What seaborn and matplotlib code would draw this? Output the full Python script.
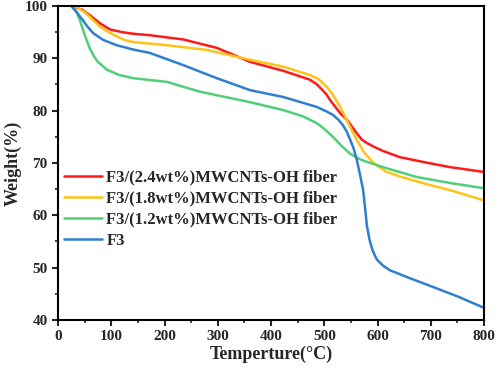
import pandas as pd
import matplotlib
matplotlib.use("Agg")
import matplotlib.pyplot as plt
import seaborn as sns
from matplotlib.ticker import MultipleLocator

# datos (temperatura, peso %)
temp_24 = [25, 45, 60, 80, 98, 120, 140, 173, 235, 298, 361, 423, 473, 485, 495, 504, 511, 520, 530, 543, 560, 570, 580, 595, 610, 642, 690, 736, 798]
peso_24 = [100, 99.3, 98.2, 96.6, 95.5, 95.0, 94.7, 94.4, 93.6, 92.0, 89.3, 87.6, 85.9, 85.1, 84.1, 83.1, 82.0, 80.8, 79.5, 78.2, 75.8, 74.5, 73.8, 73.0, 72.3, 71.1, 70.1, 69.2, 68.3]

temp_18 = [25, 35, 50, 65, 79, 95, 110, 125, 141, 204, 279, 361, 423, 473, 488, 498, 507, 515, 530, 545, 561, 575, 592, 615, 642, 690, 736, 798]
peso_18 = [100, 99.8, 98.8, 97.4, 96.0, 95.0, 94.2, 93.5, 93.1, 92.5, 91.6, 89.7, 88.4, 86.8, 86.1, 85.2, 84.3, 83.2, 80.7, 77.6, 74.4, 72.0, 70.0, 68.4, 67.4, 66.0, 64.8, 62.9]

temp_12 = [25, 35, 41, 50, 60, 68, 75, 92, 115, 141, 204, 267, 361, 423, 460, 486, 500, 516, 532, 548, 565, 580, 620, 674, 740, 798]
peso_12 = [100, 98.8, 97.3, 94.5, 91.8, 90.3, 89.3, 87.8, 86.8, 86.2, 85.5, 83.6, 81.6, 80.1, 78.9, 77.6, 76.5, 75.0, 73.3, 71.8, 70.8, 70.2, 68.9, 67.3, 66.1, 65.2]

temp_f3 = [25, 35, 45, 55, 66, 85, 110, 140, 173, 235, 298, 361, 423, 486, 505, 516, 527, 535, 542, 548, 555, 561, 567, 573, 577, 580, 585, 590, 595, 599, 610, 623, 660, 704, 750, 798]
peso_f3 = [100, 98.8, 97.5, 96.1, 94.8, 93.5, 92.5, 91.7, 91.0, 88.7, 86.2, 83.9, 82.6, 80.7, 79.8, 79.2, 78.2, 77.2, 76.0, 74.6, 72.8, 70.6, 67.8, 64.8, 61.0, 58.0, 55.3, 53.5, 52.3, 51.5, 50.4, 49.5, 48.0, 46.3, 44.5, 42.4]

etiquetas = ["F3/(2.4wt%)MWCNTs-OH fiber", "F3/(1.8wt%)MWCNTs-OH fiber",
             "F3/(1.2wt%)MWCNTs-OH fiber", "F3"]
colores = ["#ff1a1a", "#ffc21a", "#4fcf78", "#2f7fd0"]

series = [(temp_24, peso_24), (temp_18, peso_18), (temp_12, peso_12), (temp_f3, peso_f3)]

sns.set_style("ticks")
plt.rcParams['font.family'] = ['Liberation Serif', 'DejaVu Serif']
plt.rcParams['font.weight'] = 'bold'

fig = plt.figure(figsize=(4.98, 3.72), dpi=100)
ax = fig.add_axes([0.1165, 0.14, 0.8555, 0.844])

for (t, p), lab, col in zip(series, etiquetas, colores):
    d = pd.DataFrame({"Temp": t, "Peso": p})
    sns.lineplot(data=d, x="Temp", y="Peso", color=col, linewidth=1.8, label=lab, sort=False, ax=ax)

ax.set_xlim(0, 800)
ax.set_ylim(40, 100)
ax.xaxis.set_major_locator(MultipleLocator(100))
ax.xaxis.set_minor_locator(MultipleLocator(50))
ax.yaxis.set_major_locator(MultipleLocator(10))
ax.yaxis.set_minor_locator(MultipleLocator(5))
ax.tick_params(which='major', direction='out', length=4, width=1.5, labelsize=11)
ax.tick_params(which='minor', direction='out', length=2.5, width=1.2)
for s in ax.spines.values():
    s.set_linewidth(1.5)
    s.set_color('black')

ax.set_xlabel("Temperture(°C)", fontsize=13, fontweight='bold', labelpad=2)
ax.set_ylabel("Weight(%)", fontsize=13, fontweight='bold', labelpad=2)

leg = ax.legend(loc='upper left', bbox_to_anchor=(0.0, 0.497), frameon=False,
                prop={'family': 'Liberation Serif', 'weight': 'bold', 'size': 12},
                handlelength=2.3, handletextpad=0.25, labelspacing=0.3,
                borderpad=0.3, borderaxespad=0.05)
for h in leg.get_lines():
    h.set_linewidth(1.8)

fig.savefig("out.png", dpi=100)
